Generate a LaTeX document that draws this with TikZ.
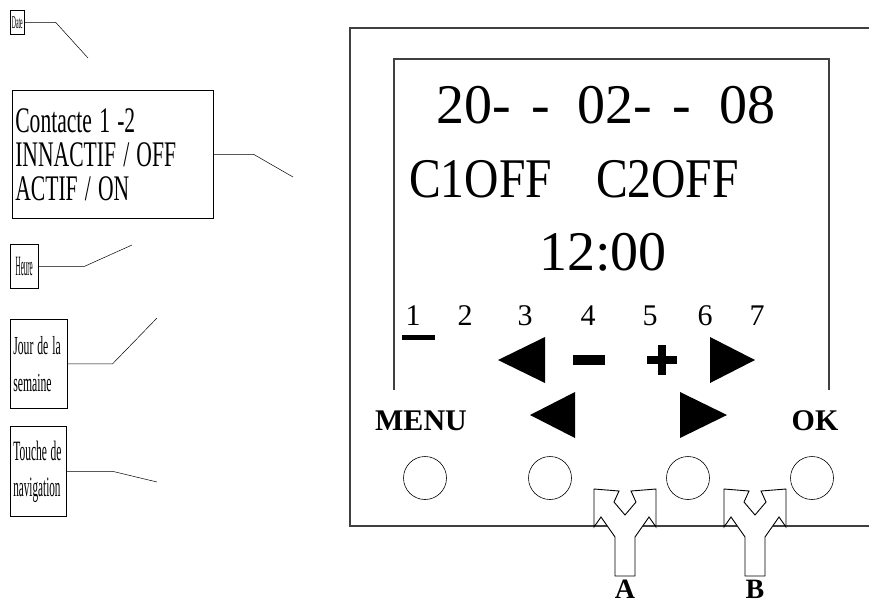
\documentclass[tikz,border=0pt]{standalone}
\usepackage{fontspec}
\setmainfont{Liberation Serif}
\usepackage{graphicx}
\usetikzlibrary{positioning}
\newcommand{\squeeze}[2]{\scalebox{#1}[1]{#2}}

\begin{document}
\begin{tikzpicture}[
    x=1pt, y=-1pt,
    lbl/.style={draw, line width=0.6pt, anchor=north west, inner sep=3pt, align=left},
    tiny/.style={draw, line width=0.6pt, anchor=north west, inner sep=0pt},
    lead/.style={line width=0.5pt},
    frame/.style={line width=1.2pt, draw=black!75},
    lcd/.style={font=\fontsize{56}{60}\selectfont, anchor=base},
    day/.style={font=\fontsize{30}{32}\selectfont, anchor=base},
    key/.style={font=\fontsize{30}{32}\selectfont\bfseries, anchor=base},
    btn/.style={circle, draw, line width=0.6pt, minimum size=43pt, inner sep=0pt},
    fork/.style={draw, line width=0.9pt, fill=white, line join=miter},
  ]
\useasboundingbox (0,0) rectangle (869,606);

% Labels on the left
\node[tiny, minimum width=14pt, minimum height=24pt, font=\fontsize{18}{18}\selectfont]
  (lbldate) at (10,10) {\squeeze{0.32}{Date}};
\node[lbl, minimum height=128pt, text width=195pt, font=\fontsize{36}{34}\selectfont]
  (lblcont) at (12,90) {\squeeze{0.6}{Contacte 1 -2}\\\squeeze{0.6}{INNACTIF / OFF}\\\squeeze{0.6}{ACTIF / ON}};
\node[tiny, minimum width=28pt, minimum height=44pt, font=\fontsize{28}{28}\selectfont]
  (lblheure) at (10,244) {\squeeze{0.25}{Heure}};
\node[lbl, minimum height=89pt, text width=51pt, font=\fontsize{26}{37}\selectfont]
  (lbljour) at (10,319) {\squeeze{0.45}{Jour de la}\\\squeeze{0.45}{semaine}};
\node[lbl, minimum height=90pt, text width=50pt, font=\fontsize{28}{36}\selectfont]
  (lblnav) at (10,426) {\squeeze{0.41}{Touche de}\\\squeeze{0.4}{navigation}};

% Leader lines, free ends
\coordinate (ptdate) at (88,58);
\coordinate (ptcont) at (293,177);
\coordinate (ptheure) at (132,245);
\coordinate (ptjour) at (157,318);
\coordinate (ptnav) at (157,482);
\draw[lead] (lbldate.east) -- ++(31,0) -- (ptdate);
\draw[lead] (lblcont.east) -- ++(40,0) -- (ptcont);
\draw[lead] (lblheure.east) -- ++(46,0) -- (ptheure);
\draw[lead] (lbljour.east) -- ++(45,0) -- (ptjour);
\draw[lead] (lblnav.east) -- ++(46,0) -- (ptnav);

% Housing and display window
\draw[frame] (880,28) -- (350,28) -- (350,526) -- (880,526);
\draw[frame] (394,390) -- (394,59) -- (829,59) -- (829,390);

% Display text
\node[lcd] (date) at (606,123) {20-\hspace{20pt}-\hspace{28pt}02-\hspace{20pt}-\hspace{28pt}08};
\node[lcd] (relays) at (574,197) {\squeeze{0.85}{C1OFF}\hspace{44pt}\squeeze{0.85}{C2OFF}};
\node[lcd] (clock) at (603,270) {12:00};
\foreach \d/\x in {1/413,2/465,3/525,4/588,5/650,6/705,7/757}
  \node[day] (d\d) at (\x,325) {\d};
\fill (402,335) rectangle (435,340);

% Display symbols
\fill (498,360) -- (545,337) -- (545,383) -- cycle;
\fill (573,355) rectangle (605,365);
\fill (647,356) rectangle (677,364);
\fill (658,345) rectangle (666,375);
\fill (755,360) -- (710,337) -- (710,383) -- cycle;

% Keys
\fill (530,415) -- (575,392) -- (575,438) -- cycle;
\fill (727,415) -- (680,392) -- (680,438) -- cycle;
\node[key] (menu) at (421,430) {MENU};
\node[key] (ok) at (815,430) {OK};
\foreach \x [count=\i] in {425,550,688,812}
  \node[btn] (b\i) at (\x,478) {};

% Y-shaped pointers
\foreach \cx/\nm in {625/A,755/B} {
  \draw[fork, shift={(\cx,489)}] (-31,0) -- (-6,2) -- (-11,13) -- (0,26) -- (11,13) -- (6,2)
    -- (31,0) -- (31,38) -- (24,28) -- (10,48) -- (10,87) -- (-10,87) -- (-10,48)
    -- (-24,28) -- (-31,38) -- cycle;
  \node[key, inner sep=0pt, font=\fontsize{28}{28}\selectfont\bfseries] (fork\nm) at (\cx,598) {\nm};
}

\end{tikzpicture}
\end{document}
